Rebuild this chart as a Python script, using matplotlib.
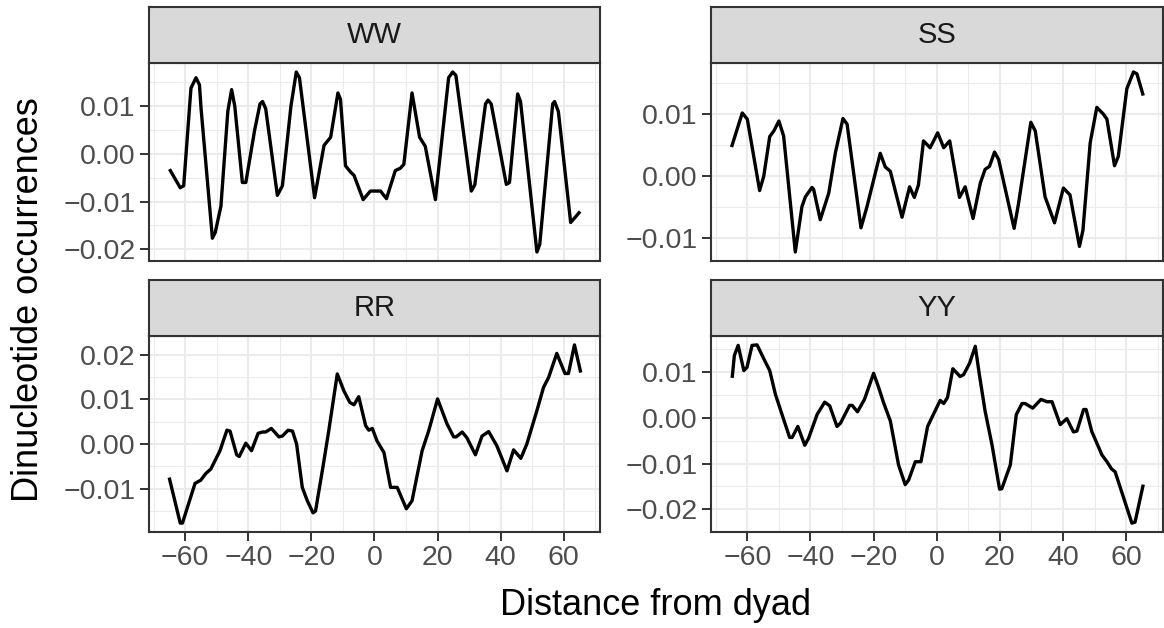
import numpy as np
import matplotlib
matplotlib.use("Agg")
import matplotlib.pyplot as plt
from matplotlib.ticker import MultipleLocator, FuncFormatter

plt.rcParams['font.family'] = ['Liberation Sans', 'DejaVu Sans']

# values (x = distance from dyad)
ww_x = [-65, -61.6, -60.5, -58.2, -56.6, -55.5, -55, -51.4, -50.5, -48.7, -46.5, -45.3, -44.3,
        -41.9, -40.8, -38, -36.3, -35.5, -34.5, -30.8, -29.2, -26.5, -24.8, -23.8, -19, -16,
        -13.9, -11.6, -10.8, -9.2, -7.6, -6.5, -3.6, -1.3, 1.9, 3.8, 6.6, 8.2, 9.3, 11.9, 14.3,
        16.1, 19.3, 23.5, 24.8, 25.8, 30.7, 31.8, 35.2, 36, 37, 41.8, 42.8, 45.4, 46.3, 51.5,
        52.4, 56.5, 57.1, 58.3, 62.2, 65.2]
ww_y = [-0.0032, -0.0071, -0.0067, 0.0138, 0.016, 0.0145, 0.0096, -0.0177, -0.0165, -0.011,
        0.009, 0.0135, 0.010, -0.006, -0.006, 0.005, 0.0105, 0.011, 0.0095, -0.0087, -0.0067,
        0.010, 0.0172, 0.016, -0.0092, 0.0018, 0.0035, 0.0128, 0.0115, -0.0025, -0.0038,
        -0.0045, -0.0096, -0.0078, -0.0078, -0.0094, -0.0035, -0.003, -0.0022, 0.0128, 0.0035,
        0.0016, -0.0096, 0.016, 0.0172, 0.0165, -0.0078, -0.0065, 0.0105, 0.0113, 0.0105,
        -0.0064, -0.006, 0.0126, 0.011, -0.0206, -0.019, 0.0105, 0.011, 0.0089, -0.0144, -0.0121]

ss_x = [-65, -61.6, -60, -56.1, -54.8, -52.9, -51.6, -50, -48.5, -44.8, -42.7, -41.6, -39.5,
        -39, -36.9, -34.2, -32.1, -29.7, -28.4, -24, -22.1, -17.9, -16.3, -14.7, -11, -8.6,
        -7.1, -5.8, -4.2, -2.1, 0.3, 2.2, 4.1, 7.2, 9, 11.5, 13.8, 15.3, 16.7, 18.3, 19.6, 24.5,
        25.9, 29.8, 31.2, 34.3, 37.3, 40.1, 42.2, 45.2, 46.3, 48.6, 50.7, 52.8, 53.9, 56.3,
        57.5, 60.2, 62.3, 63.4, 65.4]
ss_y = [0.0047, 0.0102, 0.0092, -0.0023, 0.0, 0.0064, 0.0073, 0.0089, 0.0065, -0.0122,
        -0.0049, -0.0033, -0.0018, -0.0021, -0.007, -0.0027, 0.0038, 0.0093, 0.0084, -0.0083,
        -0.0049, 0.0037, 0.0015, 0.0008, -0.0066, -0.0017, -0.0034, -0.0014, 0.0057, 0.0046,
        0.007, 0.0046, 0.0057, -0.0034, -0.0017, -0.0068, -0.0011, 0.0011, 0.0016, 0.0039,
        0.0027, -0.0084, -0.0044, 0.0087, 0.0073, -0.0033, -0.0075, -0.0019, -0.003, -0.0113,
        -0.0087, 0.0054, 0.0111, 0.010, 0.0092, 0.0017, 0.0032, 0.0141, 0.0168, 0.0165, 0.013]

rr_x = [-65.1, -61.6, -60.9, -56.9, -55.1, -53.5, -51.9, -49, -46.8, -45.8, -43.7, -42.9,
        -40.8, -39, -36.9, -35.5, -34.5, -32.7, -30.3, -29.2, -27.4, -26, -24.7, -22.9, -21.3,
        -19.5, -18.7, -16.2, -14.5, -11.8, -9.7, -7.8, -6.5, -5, -2.8, -1.8, -0.7, 0.8, 3,
        5.1, 7.2, 10.1, 11.9, 15.1, 17.2, 20, 23, 25.1, 25.9, 27.8, 29.3, 32, 34.1, 36.2, 38.8,
        42, 44.1, 46.4, 48.3, 51.5, 53.6, 55.2, 57.8, 60.4, 61.5, 63.4, 65.4]
rr_y = [-0.0075, -0.0177, -0.0177, -0.0088, -0.0081, -0.0066, -0.0056, -0.0015, 0.0031,
        0.0029, -0.0024, -0.0028, 0.0002, -0.0015, 0.0024, 0.0027, 0.0027, 0.0035, 0.0016,
        0.0018, 0.0031, 0.0029, 0.0, -0.0097, -0.0127, -0.0154, -0.015, -0.0045, 0.003,
        0.0157, 0.0119, 0.0093, 0.0088, 0.0106, 0.0041, 0.0031, 0.0035, 0.0007, -0.0019,
        -0.0097, -0.0097, -0.0145, -0.0127, -0.0015, 0.003, 0.0101, 0.0045, 0.0016, 0.0016,
        0.0027, 0.0014, -0.0024, 0.0018, 0.0028, -0.0004, -0.006, -0.0013, -0.0032, 0.0,
        0.0075, 0.0127, 0.0149, 0.0203, 0.0158, 0.0158, 0.0222, 0.016]

yy_x = [-64.8, -64.1, -62.9, -61.1, -60.1, -58.5, -56.9, -54.8, -52.9, -51.1, -49, -46.6,
        -45.8, -44, -41.8, -40.6, -37.9, -35.5, -33.9, -31.6, -30.5, -27.6, -26.8, -25.1,
        -22.9, -20, -18.4, -16.8, -14.7, -12.1, -10, -8.9, -6.8, -5, -2.9, -1.5, 1.1, 2.2, 3.4,
        5.1, 7.4, 8.5, 10.4, 12.2, 13.5, 15.3, 17.5, 19.9, 20.6, 23.3, 25.2, 27, 28, 30.4, 33,
        34.9, 36.5, 39.1, 41.2, 43.3, 44.4, 46.5, 47.3, 49.1, 52.3, 53.9, 55.4, 56.5, 59.1,
        61.8, 62.8, 65.4]
yy_y = [0.0087, 0.0136, 0.0158, 0.0103, 0.011, 0.0158, 0.0159, 0.0129, 0.0103, 0.0051,
        0.0007, -0.0043, -0.0043, -0.0019, -0.006, -0.0045, 0.0007, 0.0034, 0.0026, -0.0019,
        -0.0012, 0.0027, 0.0027, 0.0013, 0.004, 0.0097, 0.0066, 0.0032, -0.0007, -0.0103,
        -0.0146, -0.0136, -0.0096, -0.0096, -0.0019, 0.0001, 0.0038, 0.0031, 0.0044, 0.0107,
        0.009, 0.0094, 0.0119, 0.0156, 0.0094, 0.0015, -0.0059, -0.0156, -0.0155, -0.0103,
        0.0007, 0.0031, 0.0031, 0.0021, 0.004, 0.0035, 0.0035, -0.0015, -0.0002, -0.0031,
        -0.0029, 0.0018, 0.0018, -0.003, -0.0081, -0.0096, -0.0112, -0.0118, -0.0173, -0.023,
        -0.0228, -0.0146]

panels = [("WW", ww_x, ww_y), ("SS", ss_x, ss_y), ("RR", rr_x, rr_y), ("YY", yy_x, yy_y)]

W, H = 1164, 628
fig = plt.figure(figsize=(W / 100, H / 100), dpi=100)

# pixel boxes (left, right) and (strip top, panel top, panel bottom)
cols = [(149, 600), (711, 1162.5)]
rows = [(7, 63, 261), (280, 336, 532)]

dark = '#333333'
fmt = FuncFormatter(lambda v, p: ('%.2f' % v).replace('-0.00', '0.00').replace('-', '\u2212'))
xfmt = FuncFormatter(lambda v, p: ('%d' % round(v)).replace('-', '\u2212'))

for i, (name, xs, ys) in enumerate(panels):
    l, r = cols[i % 2]
    st, pt, pb = rows[i // 2]
    ax = fig.add_axes([l / W, 1 - pb / H, (r - l) / W, (pb - pt) / H])
    sx = fig.add_axes([l / W, 1 - pt / H, (r - l) / W, (pt - st) / H])

    ax.plot(xs, ys, color='black', lw=2.4, solid_joinstyle='round', solid_capstyle='butt')
    ax.margins(x=0.05, y=0.05)
    ax.set_xlim(-71.5, 71.5)
    ax.xaxis.set_major_locator(MultipleLocator(20))
    ax.xaxis.set_minor_locator(MultipleLocator(10))
    ax.yaxis.set_major_locator(MultipleLocator(0.01))
    ax.yaxis.set_minor_locator(MultipleLocator(0.005))
    ax.yaxis.set_major_formatter(fmt)
    ax.xaxis.set_major_formatter(xfmt)
    ax.set_axisbelow(True)
    ax.grid(which='major', color='#EBEBEB', lw=1.5)
    ax.grid(which='minor', color='#EBEBEB', lw=0.75)
    for s in ax.spines.values():
        s.set_color(dark)
        s.set_linewidth(1.5)
    ax.tick_params(which='major', direction='out', length=6.6, width=1.4, color=dark,
                   labelsize=20.5, labelcolor='#4D4D4D', pad=3)
    ax.tick_params(which='minor', length=0)
    if i // 2 == 0:
        ax.tick_params(axis='x', labelbottom=False, length=0)

    sx.set_facecolor('#D9D9D9')
    sx.set_xticks([])
    sx.set_yticks([])
    for s in sx.spines.values():
        s.set_color(dark)
        s.set_linewidth(1.5)
    sx.text(0.5, 0.5, name, transform=sx.transAxes, ha='center', va='center',
            fontsize=21, color='#1A1A1A')

fig.text(656 / W, 1 - 615 / H, 'Distance from dyad', ha='center', va='baseline',
         fontsize=26, color='black')
fig.text(38 / W, 1 - 300 / H, 'Dinucleotide occurrences', ha='center', va='baseline',
         rotation=90, fontsize=26, color='black', rotation_mode='anchor')

fig.savefig('out.png', dpi=100, facecolor='white')
